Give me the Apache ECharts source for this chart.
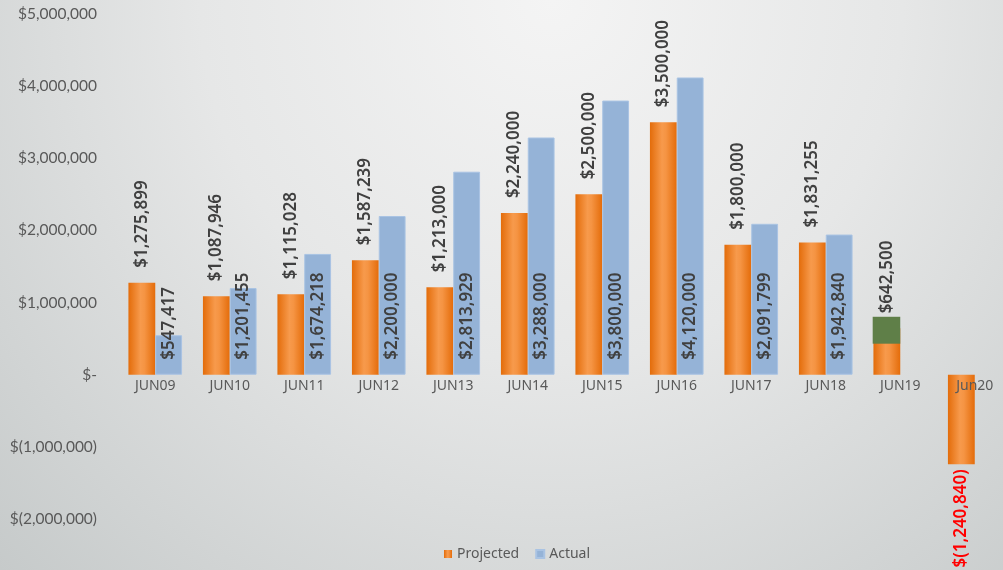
<!DOCTYPE html>
<html><head><meta charset="utf-8">
<script src="https://cdn.jsdelivr.net/npm/echarts@6/dist/echarts.min.js"></script>
<style>html,body{margin:0;padding:0;}#c{width:1003px;height:570px;background:radial-gradient(ellipse at 55% 0%, #f4f4f4 0%, #e6e7e7 45%, #c6caca 100%);}</style>
</head><body><div id="c"></div>
<script>
const categories = ['JUN09','JUN10','JUN11','JUN12','JUN13','JUN14','JUN15','JUN16','JUN17','JUN18','JUN19','Jun20'];
const projected = [1275899,1087946,1115028,1587239,1213000,2240000,2500000,3500000,1800000,1831255,642500,-1240840];
const actual = [547417,1201455,1674218,2200000,2813929,3288000,3800000,4120000,2091799,1942840,null,null];
const highlight = [[10, 430000, 803000]];
const yTicks = {min:-2000000, max:5000000, interval:1000000};

function money(v){
  const s = Math.abs(v).toLocaleString('en-US');
  if (v === 0) return '$-';
  return v < 0 ? '$(' + s + ')' : '$' + s;
}
const H = 570, gridTop = 14, gridBottom = 51;
const gridH = H - gridTop - gridBottom;
const zeroOffset = -gridH * (0 - yTicks.min) / (yTicks.max - yTicks.min);

const chart = echarts.init(document.getElementById('c'), null, {renderer:'canvas'});
const labelFont = {fontFamily:'Noto Sans', fontSize:17, fontWeight:600, color:'#404040'};
const projData = projected.map(v => v < 0 ? {value:v, label:{position:'bottom', align:'right', color:'#ff0000', distance:5}} : v);
chart.setOption({
  animation:false,
  grid:{left:118, width:894, top:gridTop, bottom:gridBottom, outerBoundsMode:'none', containLabel:false},
  legend:{data:['Projected','Actual'], bottom:4, left:439, itemWidth:8, itemHeight:8, icon:'rect', itemGap:16,
    textStyle:{fontFamily:'Noto Sans', fontSize:14, color:'#595959'}},
  xAxis:{type:'category', data:categories, z:10, position:'bottom', offset:zeroOffset,
    axisLine:{show:false, onZero:false}, axisTick:{show:false},
    axisLabel:{fontFamily:'Noto Sans', fontSize:14, color:'#595959', margin:4}},
  yAxis:{type:'value', min:yTicks.min, max:yTicks.max, interval:yTicks.interval,
    splitLine:{show:false}, axisLine:{show:false}, axisTick:{show:false},
    axisLabel:{formatter:money, fontFamily:'Lato', fontSize:15.5, color:'#595959', margin:21}},
  series:[
    {name:'Projected', type:'bar', data:projData, barWidth:'36%', barGap:'0%',
      itemStyle:{color:new echarts.graphic.LinearGradient(0,0,1,0,[{offset:0,color:'#e36c0a'},{offset:0.45,color:'#f79a4c'},{offset:0.6,color:'#f59443'},{offset:1,color:'#e46c0a'}])},
      label:Object.assign({show:true, position:'top', rotate:90, align:'left', verticalAlign:'middle', distance:15, formatter:p=>money(p.value)}, labelFont)},
    {name:'Actual', type:'bar', data:actual, barWidth:'36%',
      itemStyle:{color:'#95b3d7', borderColor:'#a9c3e3', borderWidth:1},
      label:Object.assign({show:true, position:'insideBottom', rotate:90, align:'left', verticalAlign:'middle', distance:15, formatter:p=>money(p.value)}, labelFont)},
    {name:'overlay', type:'custom', data:highlight, encode:{x:0, y:[1,2]}, z:3,
      renderItem:function(params, api){
        const x = api.value(0);
        const top = api.coord([x, api.value(2)]);
        const bot = api.coord([x, api.value(1)]);
        const bw = api.size([1,0])[0];
        return {type:'rect', shape:{x:top[0]-bw*0.37, y:top[1], width:bw*0.37, height:bot[1]-top[1]}, style:{fill:'#5f7f48'}};
      }}
  ]
});
</script></body></html>
